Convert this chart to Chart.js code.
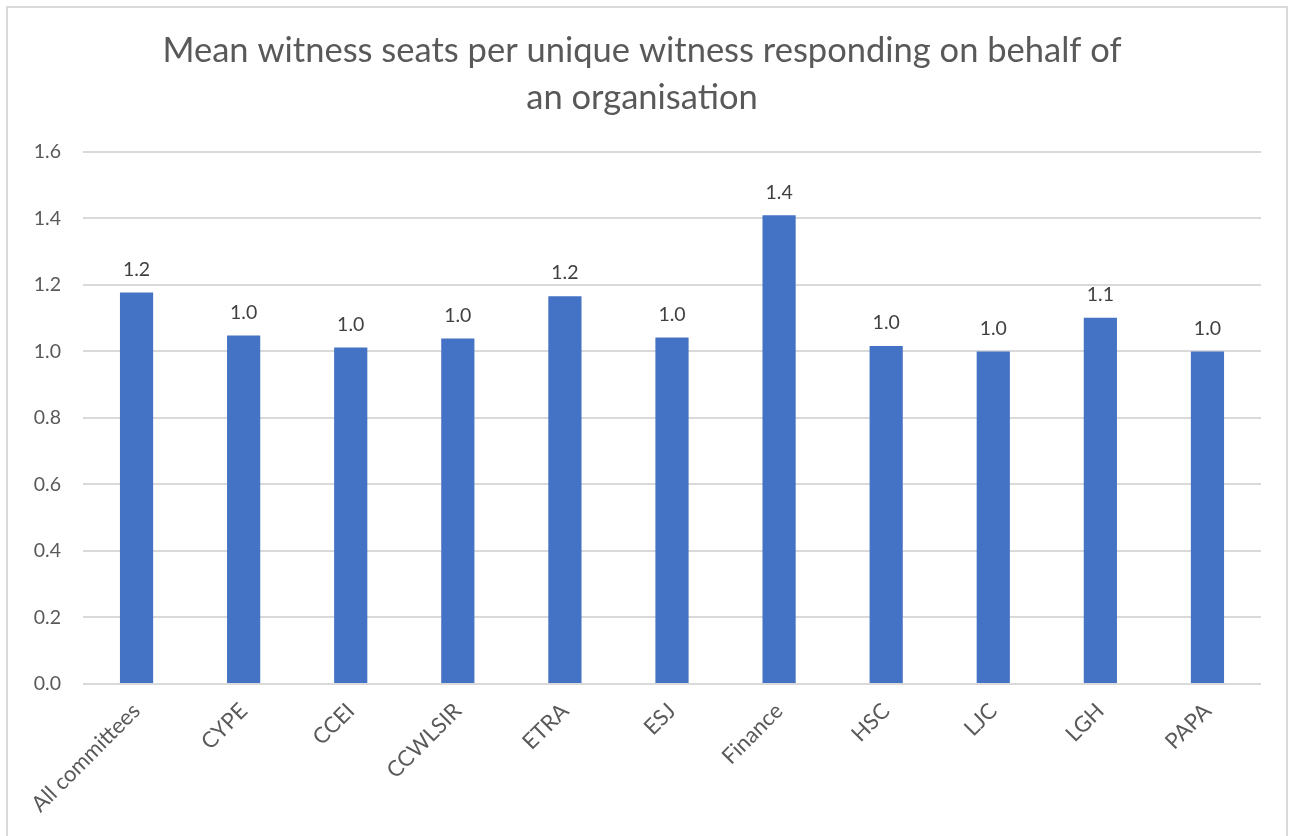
<!DOCTYPE html>
<html>
<head>
<meta charset="utf-8">
<script src="https://cdn.jsdelivr.net/npm/chart.js@4/dist/chart.umd.min.js"></script>
<style>
body{margin:0;background:#fff;}
#wrap{position:relative;width:1292px;height:836px;overflow:hidden;}
#frame{position:absolute;left:6px;top:6px;width:1282px;height:860px;border:2px solid #d9d9d9;box-sizing:border-box;}
canvas{position:absolute;left:0;top:0;}
</style>
</head>
<body>
<div id="wrap">
<div id="frame"></div>
<canvas id="chart" width="1292" height="836"></canvas>
</div>
<script>
// data
const committees=["All committees","CYPE","CCEI","CCWLSIR","ETRA","ESJ","Finance","HSC","LJC","LGH","PAPA"];
const meanSeats=[1.177,1.048,1.012,1.039,1.166,1.042,1.409,1.016,1.0,1.101,1.0];
const yTicks=[0,0.2,0.4,0.6,0.8,1.0,1.2,1.4,1.6];
const titleLines=["Mean witness seats per unique witness responding on behalf of","an organisation"];

const txt="#595959";
const FONT="Lato, 'Open Sans', sans-serif";

// labels on top of bars
const barLabels={
id:"barLabels",
afterDatasetsDraw(c){
const ctx=c.ctx;
const meta=c.getDatasetMeta(0);
ctx.save();
ctx.font="19.5px "+FONT;
ctx.fillStyle="#404040";
ctx.textAlign="center";
ctx.textBaseline="middle";
meta.data.forEach((b,i)=>{
ctx.fillText(meanSeats[i].toFixed(1),b.x,b.y-23);
});
ctx.restore();
}
};

new Chart(document.getElementById("chart"),{
type:"bar",
data:{
labels:committees,
datasets:[{data:meanSeats,backgroundColor:"#4472C4",barPercentage:0.31,categoryPercentage:1}]
},
plugins:[barLabels],
options:{
responsive:false,
animation:false,
layout:{padding:{left:23,right:31,top:10,bottom:12}},
plugins:{
legend:{display:false},
tooltip:{enabled:false},
title:{display:true,text:titleLines,color:txt,font:{family:FONT,size:34.5,weight:"normal",lineHeight:1.36},padding:{top:17,bottom:31}}
},
scales:{
x:{
grid:{display:false},
border:{display:false},
ticks:{color:txt,font:{family:FONT,size:22},minRotation:45,maxRotation:45,autoSkip:false,padding:6},
afterFit:s=>{s.height=140;}
},
y:{
min:0,max:1.6,
afterBuildTicks:s=>{s.ticks=yTicks.map(v=>({value:v}));},
grid:{color:"#d9d9d9",lineWidth:2,drawTicks:false},
border:{display:false},
ticks:{color:txt,font:{family:FONT,size:19.5},padding:22,callback:v=>v.toFixed(1)},
afterFit:s=>{s.width=60;}
}
}
}
});
</script>
</body>
</html>
